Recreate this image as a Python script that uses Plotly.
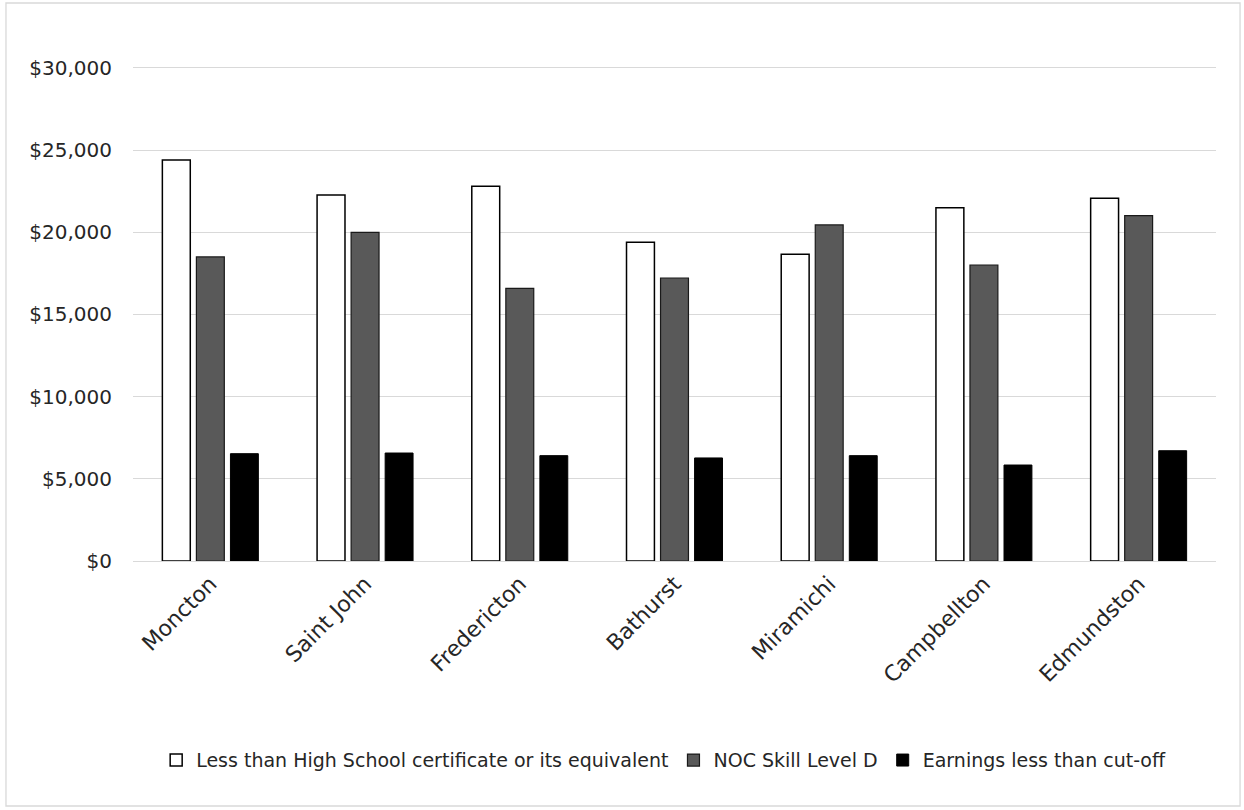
"""
Earnings by city - grouped bar chart rebuilt with Plotly.
"""

import plotly.graph_objects as go

# Data
cities = ["Moncton", "Saint John", "Fredericton", "Bathurst",
          "Miramichi", "Campbellton", "Edmundston"]
less_than_high_school = [24400, 22270, 22800, 19390, 18660, 21500, 22070]
noc_skill_level_d = [18500, 20000, 16590, 17220, 20450, 18010, 21010]
earnings_below_cutoff = [6530, 6570, 6410, 6270, 6410, 5840, 6710]

series_names = [
    "Less than High School certificate or its equivalent",
    "NOC Skill Level D",
    "Earnings less than cut-off",
]
y_ticks = [0, 5000, 10000, 15000, 20000, 25000, 30000]
y_tick_labels = ["$0", "$5,000", "$10,000", "$15,000",
                 "$20,000", "$25,000", "$30,000"]

FONT = "Century Gothic, DejaVu Sans, sans-serif"
TEXT_COLOR = "#262626"
GRID_COLOR = "#d9d9d9"

fig = go.Figure()

fig.add_trace(go.Bar(
    x=cities, y=less_than_high_school, name=series_names[0],
    marker={"color": "#ffffff", "line": {"color": "#000000", "width": 1.5}},
))
fig.add_trace(go.Bar(
    x=cities, y=noc_skill_level_d, name=series_names[1],
    marker={"color": "#595959", "line": {"color": "#1a1a1a", "width": 1.2}},
))
fig.add_trace(go.Bar(
    x=cities, y=earnings_below_cutoff, name=series_names[2],
    marker={"color": "#000000", "line": {"color": "#000000", "width": 1}},
))

fig.update_layout(
    width=1244,
    height=810,
    barmode="group",
    bargap=0.34,
    bargroupgap=0.18,
    paper_bgcolor="#ffffff",
    plot_bgcolor="#ffffff",
    font={"family": FONT, "color": TEXT_COLOR, "size": 18},
    margin={"l": 133, "r": 28, "t": 63, "b": 249},
    legend={
        "orientation": "h",
        "x": 0.49,
        "xanchor": "center",
        "y": -0.40,
        "yanchor": "middle",
        "font": {"size": 19, "family": FONT, "color": TEXT_COLOR},
        "itemwidth": 30,
        "traceorder": "normal",
    },
    # light outer frame of the chart
    shapes=[{
        "type": "rect", "xref": "paper", "yref": "paper",
        "x0": -0.1173, "x1": 1.0222, "y0": -0.492, "y1": 1.1205,
        "line": {"color": GRID_COLOR, "width": 1.3},
        "layer": "below",
    }],
)

# top of range a bit above $30,000 so its gridline is still drawn
fig.update_yaxes(
    range=[0, 30300],
    tickvals=y_ticks,
    ticktext=y_tick_labels,
    tickfont={"size": 20},
    ticklabelstandoff=20,
    gridcolor=GRID_COLOR,
    gridwidth=1.3,
    zeroline=False,
    showline=False,
)
fig.update_xaxes(
    tickangle=-45,
    tickfont={"size": 22},
    showline=True,
    linecolor=GRID_COLOR,
    linewidth=1.3,
    showgrid=False,
)

# drop the browser's default page margin so the chart sits at the window edge
fig.write_html(
    "out.html",
    config={"displayModeBar": False},
    post_script="document.body.style.margin='0';",
)
